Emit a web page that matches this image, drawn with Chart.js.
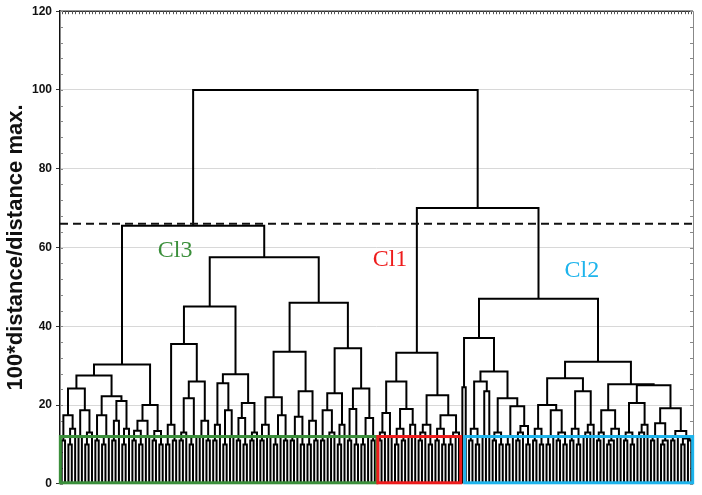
<!DOCTYPE html>
<html>
<head>
<meta charset="utf-8">
<script src="https://cdn.jsdelivr.net/npm/chart.js@4.4.1/dist/chart.umd.min.js"></script>
<style>
  html, body { margin: 0; padding: 0; background: #fff; }
  #wrap { width: 702px; height: 495px; }
</style>
</head>
<body>
<div id="wrap"><canvas id="c" width="702" height="495"></canvas></div>
<script>
// ---------- DATA (heights = 100*distance/distance max.) ----------
// Sub-trees in Newick-like form: x = one leaf, ")h" = merge height
const L1a = "(((x,x)11,((x,x)10,x)14)17.4,((x,x)12,((x,x)10,x)13)18.7)24.2";
const L1b = "(((x,x)11,((x,x)10,x)12)17.4,(((x,x)11,x)16,((x,x)10,x)14)21)22.2";
const L2  = "((((x,x)11,(x,x)10)13.5,(x,x)12)16,((x,x)11,(x,x)10)13.4)20";
const cl3LeftTree = `((${L1a},${L1b})27.5,${L2})30.3`;

const ANR = "((((x,x)11,x)13,((x,x)10,x)12)21.7,((x,x)12,(x,x)11)16)26";
const ARL = "(((x,x)11,x)15,((x,x)10,(x,x)12)18.7)25.5";
const ARR = "(((x,x)11,(x,x)10)16.7,((x,x)11,x)13)20.5";
const subA = `((((x,x)10,(x,x)11)15,${ANR})35.5,(${ARL},${ARR})27.8)45`;

const BLL = "(((x,x)11,(x,x)12)15,(((x,x)10,x)12,(x,x)11)17.4)22";
const BLR = "((((x,x)11,x)12,(x,x)10)17,((x,x)10,(x,x)11)16)23.5";
const BRL = "(((x,x)11,((x,x)12,x)13)18.7,((x,x)10,x)15)23";
const BRR = "(((x,x)11,(x,x)10)19,(((x,x)10,x)12,(x,x)11)16.7)24.2";
const subB = `((${BLL},${BLR})33.5,(${BRL},${BRR})34.4)46`;
const cl3RightTree = `(${subA},${subB})57.5`;

const C1L = "((((x,x)11,x)13,(x,x)12)18,(((x,x)10,(x,x)11)14,((x,x)12,x)15)19)26";
const C1R = "((((x,x)11,x)13,(x,x)10)15,(((x,x)11,(x,x)10)14,(((x,x)10,x)12,x)13)17.4)22.5";
const cl1Tree = `(${C1L},${C1R})33.3`;

const n474 = "(((x,x)11,(x,x)10)14,((x,x)12,x)23.5)26";
const n500 = "(((x,x)11,(x,x)10)13,(((x,x)10,x)12,(((x,x)11,x)13,(x,x)10)14.7)19.7)21.7";
const n548 = "(((x,x)11,(x,x)10)14,(((x,x)10,x)12,((x,x)11,(x,x)10)13)18.7)20";
const n582 = "(((x,x)11,(x,x)10)14,(((x,x)12,x)13,x)15)23.5";
const n607 = "(((x,x)11,x)13,(((x,x)10,x)11,(x,x)12)14)18.7";
const n632 = "(((x,x)11,(x,x)10)13,(((x,x)12,x)13,x)15)20.5";
const n657 = "(((x,x)11,x)12,((x,x)10,x)11)15.4";
const n675 = "(((x,x)11,x)12,((x,x)10,(x,x)11)11.5)13.4";
const cl2Tree = `(((x,x)24.5,(${n474},${n500})28.5)37,((${n548},${n582})26.8,(${n607},(${n632},(${n657},${n675})19.2)25)25.3)31)47`;

// top-level merges: [Cl3 join, Cl1+Cl2 join, root]
const topMergeHeights = [65.5, 70, 100];
const cutHeight = 66;                       // dashed cut line
const yTicks = [0, 20, 40, 60, 80, 100, 120];
const clusterNames  = ["Cl3", "Cl1", "Cl2"];
const clusterColors = ["#3b8f3b", "#ee1c1c", "#1eb4ec"];
const boxFrom = [-0.4, 93.9, 119.7];        // leaf-index extents of cluster boxes
const boxTo   = [93.6, 118.5, 187.4];
const boxTop  = 12;
const labelX  = [33.7, 97.5, 154.5];
const labelY  = [59.1, 56.8, 54.1];

// ---------- build tree ----------
const fullTree = `((${cl3LeftTree},${cl3RightTree})${topMergeHeights[0]},(${cl1Tree},${cl2Tree})${topMergeHeights[1]})${topMergeHeights[2]}`;

function parseTree(s) {
  let i = 0;
  function node() {
    if (s[i] === '(') {
      i++;
      const kids = [node()];
      while (s[i] === ',') { i++; kids.push(node()); }
      i++; // ')'
      let num = '';
      while (i < s.length && /[0-9.]/.test(s[i])) num += s[i++];
      return { kids, h: parseFloat(num) };
    }
    i++;
    return { leaf: true, h: 0 };
  }
  return node();
}
const root = parseTree(fullTree);
let leafCount = 0;
const segs = [];
function walk(n) {
  if (n.leaf) { n.x = leafCount++; return; }
  n.kids.forEach(walk);
  const a = n.kids[0], b = n.kids[n.kids.length - 1];
  n.x = (a.x + b.x) / 2;
  segs.push({x: a.x, y: a.h}, {x: a.x, y: n.h}, {x: b.x, y: n.h}, {x: b.x, y: b.h}, {x: null, y: null});
  for (let k = 1; k < n.kids.length - 1; k++) {
    const m = n.kids[k];
    segs.push({x: m.x, y: m.h}, {x: m.x, y: n.h}, {x: null, y: null});
  }
}
walk(root);

// ---------- plugin for frame, boxes, cut line, labels ----------
const decor = {
  id: 'decor',
  beforeDatasetsDraw(chart) {
    const {ctx, chartArea: ca, scales: {x, y}} = chart;
    ctx.save();
    // top border with dense leaf ticks
    ctx.strokeStyle = '#333'; ctx.lineWidth = 1.5;
    ctx.beginPath(); ctx.moveTo(ca.left, ca.top); ctx.lineTo(ca.right, ca.top); ctx.stroke();
    ctx.lineWidth = 1; ctx.strokeStyle = '#555';
    ctx.beginPath();
    for (let i = 0; i < leafCount; i++) {
      const px = Math.round(x.getPixelForValue(i)) + 0.5;
      ctx.moveTo(px, ca.top); ctx.lineTo(px, ca.top + 3);
    }
    ctx.stroke();
    // right border with minor ticks
    ctx.strokeStyle = '#888'; ctx.lineWidth = 1;
    ctx.beginPath(); ctx.moveTo(ca.right + 0.5, ca.top); ctx.lineTo(ca.right + 0.5, ca.bottom); ctx.stroke();
    ctx.beginPath();
    for (let v = 0; v <= 120; v += 4) {
      const py = Math.round(y.getPixelForValue(v)) + 0.5;
      ctx.moveTo(ca.right, py); ctx.lineTo(ca.right - 3, py);
      ctx.moveTo(ca.left, py); ctx.lineTo(ca.left + 3, py);
    }
    ctx.stroke();
    ctx.restore();
  },
  afterDatasetsDraw(chart) {
    const {ctx, chartArea: ca, scales: {x, y}} = chart;
    ctx.save();
    // cluster boxes
    ctx.lineWidth = 3;
    for (let k = 0; k < boxFrom.length; k++) {
      const x0 = x.getPixelForValue(boxFrom[k]), x1 = x.getPixelForValue(boxTo[k]);
      const y0 = y.getPixelForValue(boxTop), y1 = y.getPixelForValue(0);
      ctx.strokeStyle = clusterColors[k];
      ctx.strokeRect(x0, y0, x1 - x0, y1 - y0 - 1);
    }
    // cut line
    ctx.strokeStyle = '#111'; ctx.lineWidth = 2; ctx.setLineDash([8, 5]);
    const cy = y.getPixelForValue(cutHeight);
    ctx.beginPath(); ctx.moveTo(ca.left, cy); ctx.lineTo(ca.right, cy); ctx.stroke();
    ctx.setLineDash([]);
    // cluster labels
    ctx.font = '24px "Liberation Serif", "DejaVu Serif", serif';
    ctx.textAlign = 'center'; ctx.textBaseline = 'middle';
    for (let k = 0; k < clusterNames.length; k++) {
      ctx.fillStyle = clusterColors[k];
      ctx.fillText(clusterNames[k], x.getPixelForValue(labelX[k]), y.getPixelForValue(labelY[k]));
    }
    ctx.restore();
  }
};

new Chart(document.getElementById('c'), {
  type: 'scatter',
  data: {
    datasets: [{
      data: segs,
      showLine: true,
      spanGaps: false,
      borderColor: '#000',
      borderWidth: 2,
      borderJoinStyle: 'miter',
      borderCapStyle: 'butt',
      pointRadius: 0,
      pointHoverRadius: 0,
      tension: 0
    }]
  },
  options: {
    responsive: false,
    devicePixelRatio: 1,
    animation: false,
    events: [],
    layout: { padding: { top: 11, right: 9, bottom: 9, left: 0 } },
    plugins: { legend: { display: false }, tooltip: { enabled: false } },
    scales: {
      x: {
        type: 'linear', display: false,
        min: -0.5, max: leafCount - 0.5
      },
      y: {
        type: 'linear', min: 0, max: 120,
        afterFit(s) { s.width = 60; },
        afterBuildTicks(s) { s.ticks = yTicks.map(v => ({value: v})); },
        ticks: {
          color: '#111', padding: 4,
          font: { family: '"Liberation Sans", Arial, sans-serif', size: 12, weight: 'bold' }
        },
        grid: {
          color: ctx => (ctx.tick && (ctx.tick.value === 0 || ctx.tick.value === 120)) ? 'rgba(0,0,0,0)' : '#d8d8d8',
          lineWidth: 1, tickLength: 4, tickColor: '#333'
        },
        border: { display: true, color: '#111', width: 1.5 },
        title: {
          display: true, text: '100*distance/distance max.', color: '#111',
          padding: { top: 3, bottom: 0 },
          font: { family: '"Liberation Sans", Arial, sans-serif', size: 22, weight: 'bold' }
        }
      }
    }
  },
  plugins: [decor]
});
</script>
</body>
</html>
